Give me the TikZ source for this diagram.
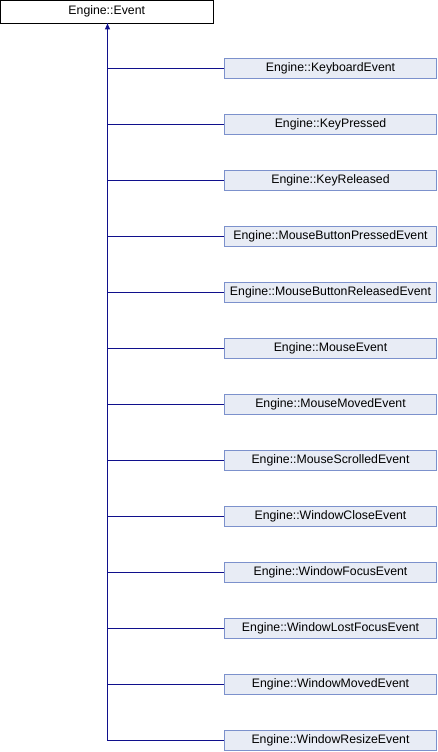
\documentclass[tikz,border=0pt]{standalone}
\usepackage{fontspec}
\setmainfont{Liberation Sans}
\usetikzlibrary{arrows.meta}
\definecolor{edgeblue}{RGB}{16,16,140}
\definecolor{boxfill}{RGB}{232,236,245}
\definecolor{boxline}{RGB}{124,145,204}
\tikzset{
  basebox/.style={draw=black, fill=white, line width=0.9pt, minimum width=212.5pt, minimum height=22.5pt, inner sep=0pt, font=\fontsize{12.3}{14}\selectfont},
  childbox/.style={draw=boxline, fill=boxfill, line width=0.9pt, minimum width=212.5pt, minimum height=20.5pt, inner sep=0pt, font=\fontsize{12.3}{14}\selectfont},
  inherit/.style={draw=edgeblue, line width=1pt},
}
\begin{document}
\begin{tikzpicture}[x=1pt,y=1pt]
\useasboundingbox (0,0) rectangle (438,-752);
\node[basebox] (base) at (106.75,-11.75) {Engine::Event};
\coordinate (trunk) at (107.5,-23);
\foreach \i/\name in {0/KeyboardEvent,1/KeyPressed,2/KeyReleased,3/MouseButtonPressedEvent,4/MouseButtonReleasedEvent,5/MouseEvent,6/MouseMovedEvent,7/MouseScrolledEvent,8/WindowCloseEvent,9/WindowFocusEvent,10/WindowLostFocusEvent,11/WindowMovedEvent,12/WindowResizeEvent}{
  \node[childbox] (c\i) at (330.5,{-68.5-56*\i}) {Engine::\name};
  \coordinate (j\i) at (107.5,{-68.5-56*\i});
  \draw[inherit] (j\i) -- (c\i.west);
}
\draw[inherit] (j12) -- (trunk);
\draw[inherit, -{Triangle[length=6pt,width=5pt]}] (j0) -- (base.south -| trunk);
\end{tikzpicture}
\end{document}
